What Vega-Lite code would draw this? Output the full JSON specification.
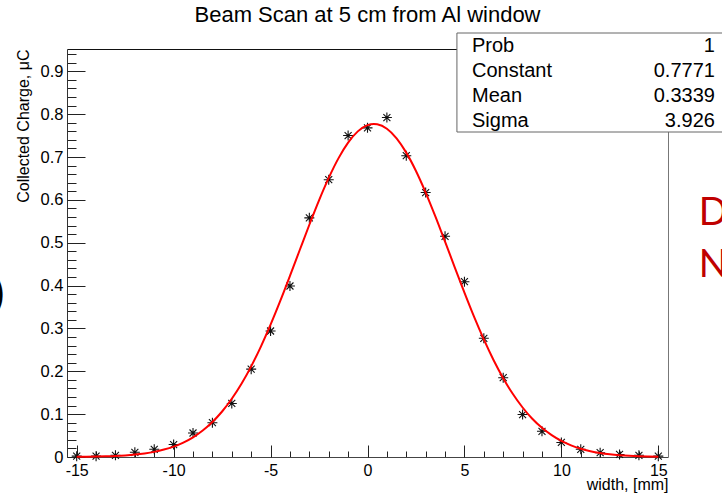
{
  "$schema": "https://vega.github.io/schema/vega-lite/v6.json",
  "width": 601,
  "height": 408,
  "autosize": "none",
  "padding": {"left": 67, "top": 49, "right": 54, "bottom": 39},
  "background": "white",
  "title": {
    "text": "Beam Scan at 5 cm from Al window",
    "font": "Liberation Sans",
    "fontSize": 22,
    "fontWeight": "normal",
    "color": "black",
    "anchor": "middle",
    "frame": "group",
    "baseline": "alphabetic",
    "offset": -11
  },
  "datasets": {
    "points": [
      {"x": -15, "y": 0.002}, {"x": -14, "y": 0.002}, {"x": -13, "y": 0.004},
      {"x": -12, "y": 0.011}, {"x": -11, "y": 0.018}, {"x": -10, "y": 0.029},
      {"x": -9, "y": 0.056}, {"x": -8, "y": 0.080}, {"x": -7, "y": 0.125},
      {"x": -6, "y": 0.205}, {"x": -5, "y": 0.294}, {"x": -4, "y": 0.399},
      {"x": -3, "y": 0.558}, {"x": -2, "y": 0.647}, {"x": -1, "y": 0.750},
      {"x": 0, "y": 0.768}, {"x": 1, "y": 0.792}, {"x": 2, "y": 0.703},
      {"x": 3, "y": 0.617}, {"x": 4, "y": 0.515}, {"x": 5, "y": 0.409},
      {"x": 6, "y": 0.277}, {"x": 7, "y": 0.185}, {"x": 8, "y": 0.099},
      {"x": 9, "y": 0.060}, {"x": 10, "y": 0.034}, {"x": 11, "y": 0.018},
      {"x": 12, "y": 0.010}, {"x": 13, "y": 0.006}, {"x": 14, "y": 0.004},
      {"x": 15, "y": 0.002}
    ],
    "fit": [
      {"x": -15, "y": 0.0004}, {"x": -14.5, "y": 0.0006}, {"x": -14, "y": 0.0010},
      {"x": -13.5, "y": 0.0016}, {"x": -13, "y": 0.0024}, {"x": -12.5, "y": 0.0037},
      {"x": -12, "y": 0.0056}, {"x": -11.5, "y": 0.0083}, {"x": -11, "y": 0.0120},
      {"x": -10.5, "y": 0.0173}, {"x": -10, "y": 0.0243}, {"x": -9.5, "y": 0.0337},
      {"x": -9, "y": 0.0460}, {"x": -8.5, "y": 0.0618}, {"x": -8, "y": 0.0817},
      {"x": -7.5, "y": 0.1062}, {"x": -7, "y": 0.1358}, {"x": -6.5, "y": 0.1708},
      {"x": -6, "y": 0.2115}, {"x": -5.5, "y": 0.2577}, {"x": -5, "y": 0.3088},
      {"x": -4.5, "y": 0.3641}, {"x": -4, "y": 0.4225}, {"x": -3.5, "y": 0.4824},
      {"x": -3, "y": 0.5419}, {"x": -2.5, "y": 0.5989}, {"x": -2, "y": 0.6512},
      {"x": -1.5, "y": 0.6968}, {"x": -1, "y": 0.7335}, {"x": -0.5, "y": 0.7598},
      {"x": 0, "y": 0.7743}, {"x": 0.3339, "y": 0.7771}, {"x": 0.5, "y": 0.7764},
      {"x": 1, "y": 0.7660}, {"x": 1.5, "y": 0.7436}, {"x": 2, "y": 0.7102},
      {"x": 2.5, "y": 0.6674}, {"x": 3, "y": 0.6171}, {"x": 3.5, "y": 0.5614},
      {"x": 4, "y": 0.5025}, {"x": 4.5, "y": 0.4426}, {"x": 5, "y": 0.3835},
      {"x": 5.5, "y": 0.3269}, {"x": 6, "y": 0.2743}, {"x": 6.5, "y": 0.2264},
      {"x": 7, "y": 0.1839}, {"x": 7.5, "y": 0.1469}, {"x": 8, "y": 0.1155},
      {"x": 8.5, "y": 0.0893}, {"x": 9, "y": 0.0680}, {"x": 9.5, "y": 0.0509},
      {"x": 10, "y": 0.0375}, {"x": 10.5, "y": 0.0272}, {"x": 11, "y": 0.0194},
      {"x": 11.5, "y": 0.0136}, {"x": 12, "y": 0.0094}, {"x": 12.5, "y": 0.0064},
      {"x": 13, "y": 0.0043}, {"x": 13.5, "y": 0.0028}, {"x": 14, "y": 0.0018},
      {"x": 14.5, "y": 0.0012}, {"x": 15, "y": 0.0007}
    ],
    "stats": [
      {"names": "Prob\nConstant\nMean\nSigma", "vals": "1\n0.7771\n0.3339\n3.926"}
    ],
    "slide": [
      {"right": "D\nN", "left": ")"}
    ]
  },
  "config": {
    "view": {"stroke": null},
    "axis": {"grid": false, "labelFont": "Liberation Sans", "titleFont": "Liberation Sans", "labelColor": "black", "titleColor": "black", "titleFontWeight": "normal", "domainColor": "#333", "tickColor": "#222"}
  },
  "resolve": {"axis": {"x": "independent", "y": "independent"}},
  "layer": [
    {
      "data": {"name": "stats"},
      "mark": {"type": "rect", "fill": "white", "stroke": "#666", "strokeWidth": 1},
      "encoding": {
        "x": {"datum": 4.613, "type": "quantitative", "scale": {"domain": [-15.5, 15.5], "nice": false, "zero": false},
          "axis": {"orient": "bottom", "values": [-15,-14,-13,-12,-11,-10,-9,-8,-7,-6,-5,-4,-3,-2,-1,0,1,2,3,4,5,6,7,8,9,10,11,12,13,14,15], "tickSize": -6, "labels": false, "domain": false, "title": null}},
        "x2": {"datum": 20},
        "y": {"datum": 0.9893, "type": "quantitative", "scale": {"domain": [0, 0.952], "nice": false, "zero": false},
          "axis": {"orient": "left", "values": [0,0.02,0.04,0.06,0.08,0.1,0.12,0.14,0.16,0.18,0.2,0.22,0.24,0.26,0.28,0.3,0.32,0.34,0.36,0.38,0.4,0.42,0.44,0.46,0.48,0.5,0.52,0.54,0.56,0.58,0.6,0.62,0.64,0.66,0.68,0.7,0.72,0.74,0.76,0.78,0.8,0.82,0.84,0.86,0.88,0.9,0.92,0.94], "tickSize": -9, "labels": false, "domain": false, "title": null}},
        "y2": {"datum": 0.7583}
      }
    },
    {
      "data": {"name": "stats"},
      "mark": {"type": "text", "font": "Liberation Sans", "fontSize": 20, "color": "black", "align": "left", "baseline": "alphabetic", "lineBreak": "\n", "lineHeight": 25},
      "encoding": {
        "x": {"datum": 5.39, "type": "quantitative", "axis": {"orient": "top", "domain": true, "domainColor": "#111", "ticks": false, "labels": false, "title": null}},
        "y": {"datum": 0.9457, "type": "quantitative", "axis": {"orient": "right", "domain": true, "domainColor": "#777", "ticks": false, "labels": false, "title": null}},
        "text": {"field": "names", "type": "nominal"}
      }
    },
    {
      "data": {"name": "stats"},
      "mark": {"type": "text", "font": "Liberation Sans", "fontSize": 20, "color": "black", "align": "right", "baseline": "alphabetic", "lineBreak": "\n", "lineHeight": 25},
      "encoding": {
        "x": {"datum": 17.92, "type": "quantitative", "axis": null},
        "y": {"datum": 0.9457, "type": "quantitative", "axis": null},
        "text": {"field": "vals", "type": "nominal"}
      }
    },
    {
      "data": {"name": "slide"},
      "mark": {"type": "text", "font": "Lato", "fontSize": 38, "color": "#C00000", "align": "left", "baseline": "alphabetic", "lineBreak": "\n", "lineHeight": 52},
      "encoding": {
        "x": {"datum": 17.09, "type": "quantitative", "axis": null},
        "y": {"datum": 0.5413, "type": "quantitative", "axis": null},
        "text": {"field": "right", "type": "nominal"}
      }
    },
    {
      "data": {"name": "slide"},
      "mark": {"type": "text", "font": "Lato", "fontSize": 38, "fontWeight": "bold", "color": "black", "align": "right", "baseline": "alphabetic"},
      "encoding": {
        "x": {"datum": -18.75, "type": "quantitative", "axis": null},
        "y": {"datum": 0.35, "type": "quantitative", "axis": null},
        "text": {"field": "left", "type": "nominal"}
      }
    },
    {
      "data": {"name": "points"},
      "mark": {"type": "point", "shape": "M-1,0L1,0M0,-1L0,1M-0.7,-0.7L0.7,0.7M-0.7,0.7L0.7,-0.7", "filled": false, "stroke": "#111", "strokeWidth": 1.1, "size": 100, "opacity": 1},
      "encoding": {
        "x": {"field": "x", "type": "quantitative",
          "axis": {"orient": "bottom", "values": [-15,-10,-5,0,5,10,15], "ticks": false, "labelExpr": "'' + datum.value", "labelFontSize": 16, "labelBaseline": "alphabetic", "labelPadding": 18, "labelFlush": false, "labelOverlap": false, "domain": true, "domainColor": "#444",
            "title": "width, [mm]", "titleFontSize": 16, "titleAnchor": "end", "titleAlign": "right", "titleBaseline": "alphabetic", "titleX": 601, "titleY": 32}},
        "y": {"field": "y", "type": "quantitative",
          "axis": {"orient": "left", "values": [0,0.1,0.2,0.3,0.4,0.5,0.6,0.7,0.8,0.9], "ticks": false, "labelExpr": "'' + datum.value", "labelFontSize": 16.5, "labelPadding": 4, "labelAlign": "right", "labelBaseline": "middle", "labelFlush": false, "labelOverlap": false, "domain": true, "domainColor": "#333",
            "title": "Collected Charge, μC", "titleFontSize": 16, "titleAngle": -90, "titleAlign": "right", "titleBaseline": "alphabetic", "titleX": -39, "titleY": 0}}
      }
    },
    {
      "data": {"name": "fit"},
      "mark": {"type": "line", "color": "#ff0000", "strokeWidth": 2, "interpolate": "monotone"},
      "encoding": {
        "x": {"field": "x", "type": "quantitative",
          "axis": {"orient": "bottom", "values": [-15,-10,-5,0,5,10,15], "tickSize": -12, "labels": false, "domain": false, "title": null}},
        "y": {"field": "y", "type": "quantitative",
          "axis": {"orient": "left", "values": [0,0.1,0.2,0.3,0.4,0.5,0.6,0.7,0.8,0.9], "tickSize": -18, "labels": false, "domain": false, "title": null}}
      }
    }
  ]
}
